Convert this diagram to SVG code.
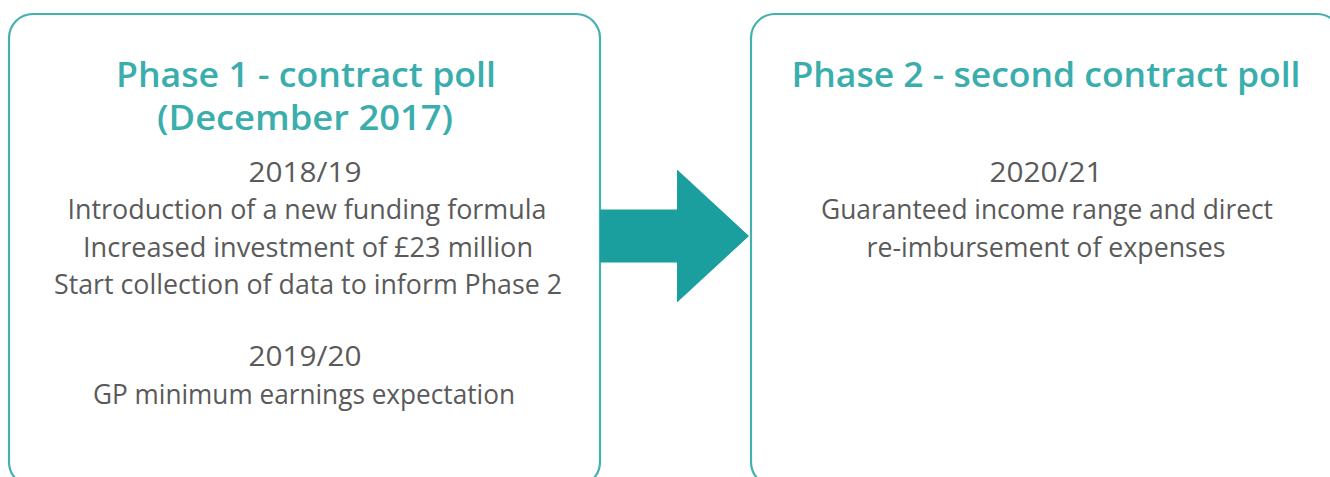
<svg xmlns="http://www.w3.org/2000/svg" width="1330" height="477" viewBox="0 0 1330 477">
<style>
.box{fill:#fff;stroke:#45b0b0;stroke-width:2.2}
.title{font-family:"Open Sans","Liberation Sans",sans-serif;font-size:35px;font-weight:600;fill:#3aadad;text-anchor:middle}
.body{font-family:"Open Sans","Liberation Sans",sans-serif;font-size:27px;font-weight:400;fill:#5a5a5a;text-anchor:middle}
.arrow{fill:#1a9e9e}
</style>
<rect width="1330" height="477" fill="#fff"/>
<g id="phase1">
<rect class="box" x="9" y="14" width="591" height="472" rx="24" ry="24"/>
<text class="title" x="306" y="87" textLength="380" lengthAdjust="spacingAndGlyphs">Phase 1 - contract poll</text>
<text class="title" x="305" y="130" textLength="296" lengthAdjust="spacingAndGlyphs">(December 2017)</text>
<text class="body" x="305" y="182" textLength="113" lengthAdjust="spacingAndGlyphs">2018/19</text>
<text class="body" x="307" y="219" textLength="479" lengthAdjust="spacingAndGlyphs">Introduction of a new funding formula</text>
<text class="body" x="308" y="257" textLength="450" lengthAdjust="spacingAndGlyphs">Increased investment of £23 million</text>
<text class="body" x="308" y="294" textLength="508" lengthAdjust="spacingAndGlyphs">Start collection of data to inform Phase 2</text>
<text class="body" x="305" y="366" textLength="113" lengthAdjust="spacingAndGlyphs">2019/20</text>
<text class="body" x="304" y="404" textLength="422" lengthAdjust="spacingAndGlyphs">GP minimum earnings expectation</text>
</g>
<g id="phase2">
<rect class="box" x="751" y="14" width="590" height="472" rx="24" ry="24"/>
<text class="title" x="1046" y="87" textLength="509" lengthAdjust="spacingAndGlyphs">Phase 2 - second contract poll</text>
<text class="body" x="1046" y="182" textLength="113" lengthAdjust="spacingAndGlyphs">2020/21</text>
<text class="body" x="1047" y="219" textLength="452" lengthAdjust="spacingAndGlyphs">Guaranteed income range and direct</text>
<text class="body" x="1046" y="257" textLength="359" lengthAdjust="spacingAndGlyphs">re-imbursement of expenses</text>
</g>
<g id="connectors">
<polygon class="arrow" points="600,209.5 677,209.5 677,169.5 749,236 677,302.5 677,262.5 600,262.5"/>
</g>
</svg>
